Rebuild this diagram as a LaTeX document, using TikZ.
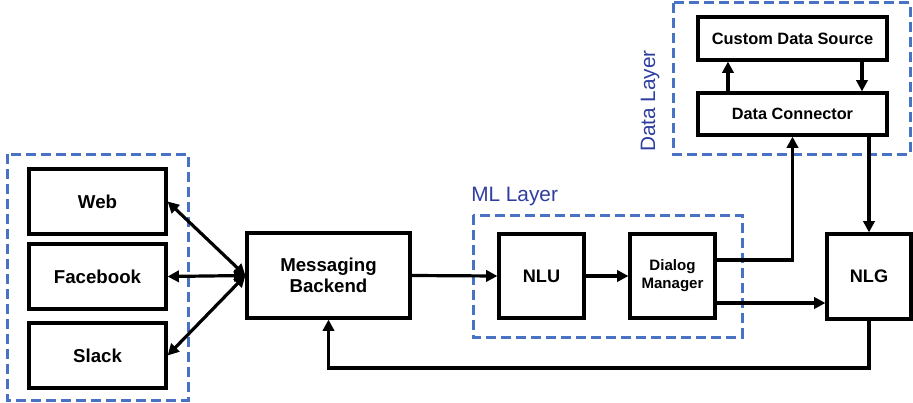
\documentclass[tikz,border=0pt]{standalone}
\usepackage{fontspec}
\setmainfont{Liberation Sans}
\usetikzlibrary{arrows.meta,calc}
\definecolor{grpblue}{RGB}{72,114,196}
\definecolor{lblblue}{RGB}{46,62,160}
\tikzset{
  blk/.style={draw=black, line width=2.4pt, fill=white, align=center,
    inner sep=0pt, font=\bfseries\fontsize{14pt}{15.5pt}\selectfont},
  grp/.style={draw=grpblue, line width=2.25pt, dash pattern=on 7.5pt off 3.75pt},
  lbl/.style={text=lblblue, inner sep=0pt, font=\fontsize{15.6pt}{18pt}\selectfont},
  conn/.style={line width=2.4pt, -{Triangle[length=8.5pt,width=8.5pt]}},
  bconn/.style={line width=2.4pt, {Triangle[length=8.5pt,width=8.5pt]}-{Triangle[length=8.5pt,width=8.5pt]}},
}
\begin{document}
\begin{tikzpicture}[x=0.75pt,y=-0.75pt]
\useasboundingbox (0,0) rectangle (913,403);

% layer frames
\draw[grp] (7,154) rectangle (188,400);
\draw[grp] (473,215) rectangle (742,337);
\draw[grp] (673,3) rectangle (910,154);
\node[lbl, anchor=west] (mllbl) at (471,197) {ML Layer};
\node[lbl, rotate=90] (datalbl) at (650,101) {Data Layer};

% channels
\node[blk, minimum width=102.75pt, minimum height=48.75pt] (web) at (97.5,201.5) {Web};
\node[blk, minimum width=102.75pt, minimum height=48.75pt] (fb) at (97.5,276.5) {Facebook};
\node[blk, minimum width=102.75pt, minimum height=48.75pt] (slack) at (97.5,355.5) {Slack};

% core pipeline
\node[blk, minimum width=122.25pt, minimum height=63.75pt] (mb) at (328.5,275.5) {Messaging\\Backend};
\node[blk, minimum width=63.75pt, minimum height=63pt, font=\bfseries\fontsize{13.6pt}{15pt}\selectfont] (nlu) at (541.5,276) {NLU};
\node[blk, minimum width=63.75pt, minimum height=63pt, font=\bfseries\fontsize{11.3pt}{13.3pt}\selectfont] (dm) at (672.5,276) {Dialog\\Manager};
\node[blk, minimum width=63pt, minimum height=63.75pt, font=\bfseries\fontsize{13.6pt}{15pt}\selectfont] (nlg) at (869,276.5) {NLG};

% data layer
\node[blk, minimum width=141.75pt, minimum height=32.25pt, font=\bfseries\fontsize{12.3pt}{14pt}\selectfont] (cds) at (792.5,38.5) {Custom Data Source};
\node[blk, minimum width=141.75pt, minimum height=31.5pt, font=\bfseries\fontsize{12.2pt}{14pt}\selectfont] (dc) at (792.5,114) {Data Connector};

\coordinate (back) at (0,368);

% connectors
\draw[bconn] (web.east) -- (mb.west);
\draw[bconn] (fb.east) -- (mb.west);
\draw[bconn] (slack.east) -- (mb.west);
\draw[conn] (mb.east) -- (nlu.west);
\draw[conn] (nlu.east) -- (dm.west);
\draw[conn] ([yshift=12pt]dm.east) -| (dc.south);
\draw[conn] ([yshift=-20.25pt]dm.east) -- ([yshift=-20.25pt]dm.east -| nlg.west);
\draw[conn] (dc.south -| nlg.north) -- (nlg.north);
\draw[conn] ([xshift=-48.4pt]dc.north) -- ([xshift=-48.4pt]cds.south);
\draw[conn] ([xshift=52.1pt]cds.south) -- ([xshift=52.1pt]dc.north);
\draw[conn] (nlg.south) -- (nlg.south |- back) -| (mb.south);
\end{tikzpicture}
\end{document}
